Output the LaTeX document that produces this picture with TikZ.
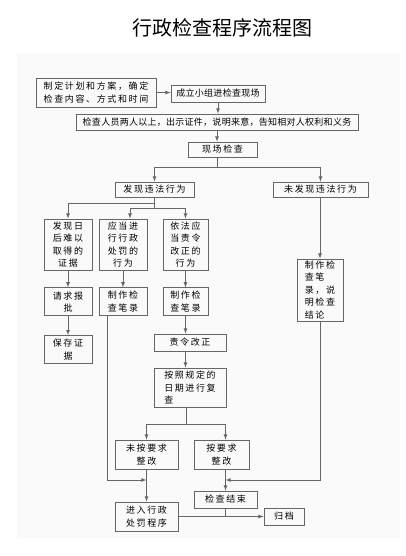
\documentclass[tikz,border=0pt]{standalone}
\usepackage{fontspec}
\newfontfamily\cjk{Noto Sans CJK SC}
\newfontfamily\cjkwide[LetterSpace=18]{Noto Sans CJK SC}
\newfontfamily\cjknarrow[LetterSpace=3]{Noto Sans CJK SC}
\usetikzlibrary{positioning}
\begin{document}
\begin{tikzpicture}[x=1pt, y=-1pt, >=latex,
    box/.style={draw=black!60, line width=0.8pt, inner sep=0pt, align=center,
        font=\cjkwide\fontsize{9}{12.5}\selectfont},
    link/.style={draw=black!60, line width=0.8pt}]
    \useasboundingbox (0,0) rectangle (406,556);
    \fill[black!2] (17,53) rectangle (400,538);
    \node (title) at (222,28) {\cjk\fontsize{20}{20}\selectfont 行政检查程序流程图};
    % top chain
    \node[box, minimum width=120, minimum height=29] (plan) at (96,92.5) {制定计划和方案，确定\\检查内容、方式和时间};
    \node[box, minimum width=94, minimum height=17, font=\cjknarrow\fontsize{9}{12.5}\selectfont] (team) at (218,93.5) {成立小组进检查现场};
    \node[box, minimum width=282, minimum height=16, font=\cjknarrow\fontsize{9}{12.5}\selectfont] (notice) at (217,122) {检查人员两人以上，出示证件，说明来意，告知相对人权利和义务};
    \node[box, minimum width=69, minimum height=15] (site) at (222.5,149.5) {现场检查};
    \node[box, minimum width=79, minimum height=15] (found) at (154.5,189.5) {发现违法行为};
    \node[box, minimum width=95, minimum height=15] (nofound) at (320.5,189.5) {未发现违法行为};
    % three columns
    \node[box, minimum width=48, minimum height=51] (hard) at (68,244.5) {发现日\\后难以\\取得的\\证据};
    \node[box, minimum width=48, minimum height=51] (punish) at (123,244.5) {应当进\\行行政\\处罚的\\行为};
    \node[box, minimum width=45, minimum height=51] (correct) at (185.5,244.5) {依法应\\当责令\\改正的\\行为};
    \node[box, minimum width=46, minimum height=62, align=left] (conclude) at (320,290) {制作检\\查笔\\录，说\\明检查\\结论};
    \node[box, minimum width=48, minimum height=28] (report) [below=17pt of hard] {请求报\\批};
    \node[box, minimum width=48, minimum height=28] (recA) [below=17pt of punish] {制作检\\查笔录};
    \node[box, minimum width=45, minimum height=28] (recB) [below=17pt of correct] {制作检\\查笔录};
    \node[box, minimum width=48, minimum height=28] (keep) [below=19pt of report] {保存证\\据};
    \node[box, minimum width=72, minimum height=17] (order) at (190,342.5) {责令改正};
    \node[box, minimum width=72, minimum height=39, align=left] (recheck) at (190,387.5) {按照规定的\\日期进行复\\查};
    % bottom
    \node[box, minimum width=63, minimum height=29] (notfix) at (146.5,454.5) {未按要求\\整改};
    \node[box, minimum width=55, minimum height=29] (fixed) at (221.5,454.5) {按要求\\整改};
    \node[box, minimum width=63, minimum height=29] (enter) at (146.5,516.5) {进入行政\\处罚程序};
    \node[box, minimum width=63, minimum height=17] (finish) at (225.5,499.5) {检查结束};
    \node[box, minimum width=40, minimum height=17] (file) at (284,516.5) {归档};
    % connectors
    \coordinate (d) at (217,167);
    \coordinate (e1) at (154,203);
    \coordinate (e2) at (154,208);
    \coordinate (p) at (186,424);
    \coordinate (l) at (107,480);
    \draw[link,->] (plan.east) -- (plan.east -| team.west);
    \draw[link,->] (team.south) -- (team.south |- notice.north);
    \draw[link,->] (notice.south) -- (notice.south |- site.north);
    \draw[link] (d |- site.south) -- (d);
    \draw[link,->] (d) -| (found);
    \draw[link,->] (d) -| (nofound);
    \draw[link] (found.south -| e1) -- (e2);
    \draw[link,->] (e1) -| (hard);
    \draw[link,->] (e2) -| ([xshift=7pt]punish.north);
    \draw[link,->] (e2) -| (correct);
    \draw[link,->] (nofound.south -| conclude.north) -- (conclude.north);
    \draw[link,->] (hard) -- (report);
    \draw[link,->] (report) -- (keep);
    \draw[link,->] (punish) -- (recA);
    \draw[link,->] (correct) -- (recB);
    \draw[link,->] (recB.south) -- (recB.south |- order.north);
    \draw[link,->] (recB.south |- order.south) -- (recB.south |- recheck.north);
    \draw[link] (p |- recheck.south) -- (p);
    \draw[link,->] (p) -| (notfix);
    \draw[link,->] (p) -| (finish.north |- fixed.north);
    \draw[link,->] (l |- recA.south) -- (l) -- (notfix.south |- l);
    \draw[link,->] (conclude.south) |- (finish.north |- l);
    \draw[link,->] (notfix) -- (enter);
    \draw[link,->] (finish.north |- fixed.south) -- (finish.north);
    \draw[link,->] (enter.east) -- (enter.east -| file.west);
    \draw[link] (finish.south) -- (finish.south |- enter.east);
\end{tikzpicture}
\end{document}
